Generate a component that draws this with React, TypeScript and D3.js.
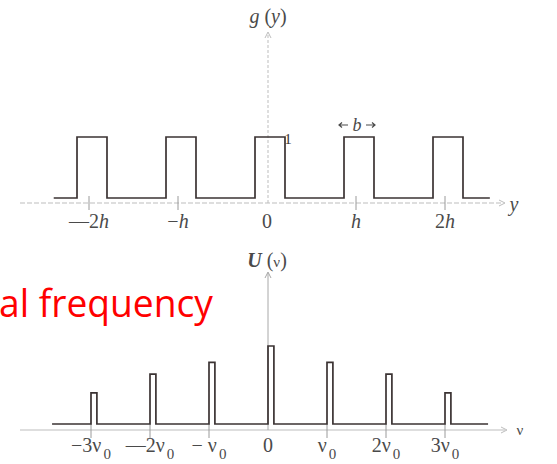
import React from "react";
import * as d3 from "d3";

// Square-wave grating g(y): pulse centres in units of the period h, pulse width b (in h)
const gratingCentres = [-2, -1, 0, 1, 2];
const pulseWidth = 0.337;
const gratingSpan = [-2.43, 2.47];
const gratingTicks = [-2, -1, 0, 1, 2];
const gratingTickLabels = ["—2", "−", "0", "", "2"];
const gratingTickItalic = ["h", "h", "", "h", "h"];

// Spectrum U(ν): harmonic order and relative amplitude
const harmonics = [-3, -2, -1, 0, 1, 2, 3];
const amplitudes = [0.4, 0.64, 0.79, 1.0, 0.79, 0.64, 0.4];
const spikeWidth = 0.1;
const spectrumSpan = [-3.66, 3.73];
const spectrumTickMain = ["−3ν", "—2ν", "− ν", "0", "ν", "2ν", "3ν"];
const spectrumTickSub = ["0", "0", "0", "", "0", "0", "0"];

const W = 557;
const H = 464;
const ink = "#3b3333";
const axisGrey = "#bdbdbd";
const textGrey = "#4a4a4a";
const serif = "'Liberation Serif', 'DejaVu Serif', serif";

export default function App() {
  // ---- top panel scales
  const xTop = d3.scaleLinear().domain([-3, 3]).range([270 - 267, 270 + 267]);
  const yTop = d3.scaleLinear().domain([0, 1]).range([198, 137]);
  const topAxisY = 203;

  const gratingPts: [number, number][] = [[gratingSpan[0], 0]];
  gratingCentres.forEach((c) => {
    gratingPts.push([c - pulseWidth / 2, 0]);
    gratingPts.push([c - pulseWidth / 2, 1]);
    gratingPts.push([c + pulseWidth / 2, 1]);
    gratingPts.push([c + pulseWidth / 2, 0]);
  });
  gratingPts.push([gratingSpan[1], 0]);
  const topLine = d3
    .line<[number, number]>()
    .x((d) => xTop(d[0]))
    .y((d) => yTop(d[1]));

  // ---- bottom panel scales
  const xBot = d3.scaleLinear().domain([-4, 4]).range([268 - 236, 268 + 236]);
  const yBot = d3.scaleLinear().domain([0, 1]).range([424, 346]);
  const botAxisY = 430;

  const spectrumPts: [number, number][] = [[spectrumSpan[0], 0]];
  harmonics.forEach((n, i) => {
    spectrumPts.push([n, 0]);
    spectrumPts.push([n, amplitudes[i]]);
    spectrumPts.push([n + spikeWidth, amplitudes[i]]);
    spectrumPts.push([n + spikeWidth, 0]);
  });
  spectrumPts.push([spectrumSpan[1], 0]);
  const botLine = d3
    .line<[number, number]>()
    .x((d) => xBot(d[0]))
    .y((d) => yBot(d[1]));

  const x0Top = xTop(0) - 2;
  const x0Bot = xBot(0);

  const chevronRight = (x: number, y: number) =>
    `M${x - 6},${y - 3}L${x},${y}L${x - 6},${y + 3}`;
  const chevronUp = (x: number, y: number) =>
    `M${x - 3},${y + 6}L${x},${y}L${x + 3},${y + 6}`;

  const bMid = xTop(1) - 1;

  return (
    <svg
      width={W}
      height={H}
      style={{ position: "absolute", left: 0, top: 0, background: "#fff" }}
    >
      {/* ===== g(y) panel ===== */}
      <line x1={20} x2={503} y1={topAxisY} y2={topAxisY} stroke={axisGrey} strokeWidth={1} strokeDasharray="5,2" />
      <path d={chevronRight(505, topAxisY)} fill="none" stroke={axisGrey} strokeWidth={1} />
      <line x1={x0Top} x2={x0Top} y1={topAxisY} y2={33} stroke={axisGrey} strokeWidth={1} strokeDasharray="3,2" />
      <path d={chevronUp(x0Top, 32)} fill="none" stroke={axisGrey} strokeWidth={1} />
      <text x={514} y={211} fontFamily={serif} fontStyle="italic" fontSize={20} fill={textGrey} textAnchor="middle">y</text>
      <text x={x0Top} y={23} fontFamily={serif} fontSize={20} fill={textGrey} textAnchor="middle">
        <tspan fontStyle="italic">g</tspan> (<tspan fontStyle="italic">y</tspan>)
      </text>

      {gratingTicks.map((t, i) => (
        <g key={`gt${i}`}>
          {t !== 0 && (
            <line x1={xTop(t) - 3} x2={xTop(t) - 3} y1={196} y2={210} stroke="#9a9a9a" strokeWidth={1} />
          )}
          <text x={xTop(t) - 3} y={228} fontFamily={serif} fontSize={20} fill={textGrey} textAnchor="middle">
            {gratingTickLabels[i]}
            <tspan fontStyle="italic">{gratingTickItalic[i]}</tspan>
          </text>
        </g>
      ))}

      <path d={topLine(gratingPts) ?? ""} fill="none" stroke={ink} strokeWidth={1.7} strokeLinejoin="miter" />
      <text x={xTop(pulseWidth / 2) + 3} y={yTop(1) + 7} fontFamily={serif} fontSize={15} fill={ink} textAnchor="middle">1</text>

      {/* width marker b */}
      <path d={`M${bMid - 19},125H${bMid - 10}M${bMid - 16},122.5L${bMid - 19},125L${bMid - 16},127.5`} fill="none" stroke={textGrey} strokeWidth={1.2} />
      <path d={`M${bMid + 8},125H${bMid + 17}M${bMid + 14},122.5L${bMid + 17},125L${bMid + 14},127.5`} fill="none" stroke={textGrey} strokeWidth={1.2} />
      <text x={bMid - 1} y={131} fontFamily={serif} fontStyle="italic" fontSize={18} fill={textGrey} textAnchor="middle">b</text>

      {/* ===== U(ν) panel ===== */}
      <text x={-1} y={317} fontFamily="'Open Sans', 'Noto Sans', sans-serif" fontSize={38} textLength={214} lengthAdjust="spacingAndGlyphs" fill="#ff0000">al frequency</text>

      <line x1={20} x2={505} y1={botAxisY} y2={botAxisY} stroke={axisGrey} strokeWidth={1} />
      <path d={chevronRight(507, botAxisY)} fill="none" stroke={axisGrey} strokeWidth={1} />
      <line x1={x0Bot} x2={x0Bot} y1={botAxisY} y2={273} stroke="#a8a8a8" strokeWidth={1} />
      <path d={chevronUp(x0Bot, 272)} fill="none" stroke="#a8a8a8" strokeWidth={1} />
      <text x={520} y={435} fontFamily={serif} fontSize={15} fill={textGrey} textAnchor="middle">ν</text>
      <text x={267} y={267} fontFamily={serif} fontSize={20} fill={textGrey} textAnchor="middle">
        <tspan fontStyle="italic" fontWeight="bold">U</tspan> (<tspan fontSize={15}>ν</tspan>)
      </text>

      {harmonics.map((n, i) => (
        <g key={`st${i}`}>
          {n !== 0 && (
            <line x1={xBot(n)} x2={xBot(n)} y1={424} y2={438} stroke="#9a9a9a" strokeWidth={1} />
          )}
          <text x={xBot(n)} y={452} fontFamily={serif} fontSize={20} fill={textGrey} textAnchor="middle">
            {spectrumTickMain[i]}
            <tspan fontSize={15} dy={7} dx={2}>{spectrumTickSub[i]}</tspan>
          </text>
        </g>
      ))}

      <path d={botLine(spectrumPts) ?? ""} fill="none" stroke={ink} strokeWidth={1.7} strokeLinejoin="miter" />
    </svg>
  );
}
